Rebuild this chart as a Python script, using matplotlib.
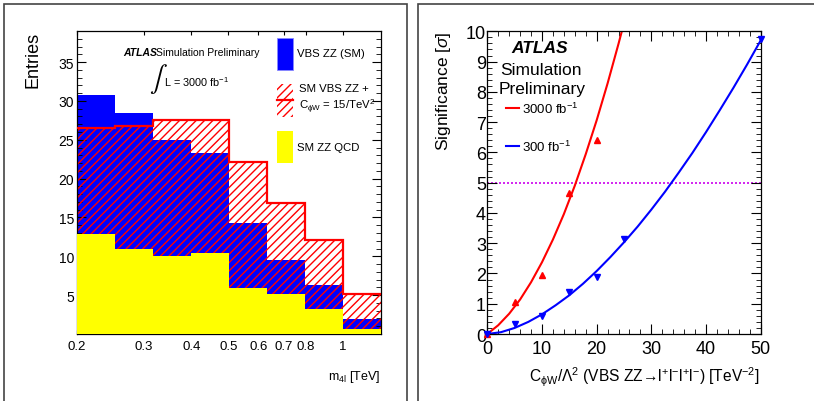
import matplotlib
matplotlib.use('Agg')
import matplotlib.pyplot as plt
from matplotlib.patches import Rectangle
from matplotlib.lines import Line2D
from matplotlib.ticker import MultipleLocator, NullLocator, FixedLocator

# ROOT style helvetica -> Liberation Sans
plt.rcParams['font.family'] = ['Liberation Sans', 'DejaVu Sans']
plt.rcParams['mathtext.fontset'] = 'custom'
plt.rcParams['mathtext.rm'] = 'Liberation Sans'
plt.rcParams['mathtext.it'] = 'Liberation Sans:italic'
plt.rcParams['mathtext.bf'] = 'Liberation Sans:bold'
plt.rcParams['hatch.linewidth'] = 1.0

# ---- left panel data: m4l histograms ----
bin_edges = [0.2, 0.252, 0.317, 0.399, 0.502, 0.632, 0.796, 1.002, 1.262]
qcd = [12.9, 10.9, 10.1, 10.4, 5.95, 5.1, 3.2, 0.7]
sm_total = [30.7, 28.5, 25.0, 23.3, 14.3, 9.5, 6.3, 1.9]        # QCD + VBS ZZ (SM) stacked
cphiw_total = [26.5, 26.8, 27.5, 27.5, 22.2, 16.9, 12.1, 5.2]   # SM VBS ZZ + CphiW = 15
xtick_vals = [0.2, 0.3, 0.4, 0.5, 0.6, 0.7, 0.8, 1.0]
xtick_labels = ['0.2', '0.3', '0.4', '0.5', '0.6', '0.7', '0.8', '1']
ytick_vals = [5, 10, 15, 20, 25, 30, 35]

# ---- right panel data: significance vs CphiW ----
pts_3000_x = [0, 5, 10, 15, 20]
pts_3000_y = [0, 1.05, 1.95, 4.65, 6.4]
pts_300_x = [0, 5, 10, 15, 20, 25, 50]
pts_300_y = [0, 0.32, 0.6, 1.4, 1.87, 3.15, 9.75]
fit_3000_x = [0, 2, 4, 6, 8, 10, 12, 14, 16, 18, 20, 22, 24, 24.6]
fit_3000_y = [0, 0.29, 0.67, 1.14, 1.71, 2.37, 3.12, 3.96, 4.90, 5.94, 7.06, 8.28, 9.59, 10.0]
fit_300_x = [0, 2.5, 5, 7.5, 10, 12.5, 15, 17.5, 20, 22.5, 25, 27.5, 30, 32.5, 35,
             37.5, 40, 42.5, 45, 47.5, 50]
fit_300_y = [0, 0.06, 0.2, 0.4, 0.65, 0.95, 1.28, 1.66, 2.08, 2.54, 3.03, 3.55, 4.11,
             4.70, 5.33, 5.98, 6.67, 7.39, 8.13, 8.90, 9.70]

W, H = 814, 402
fig = plt.figure(figsize=(W / 100, H / 100), dpi=100)


def fx(x):
    return x / W


def fy(y):
    return 1 - y / H


def axes_px(x0, y0, x1, y1):
    return [fx(x0), fy(y1), fx(x1) - fx(x0), fy(y0) - fy(y1)]


# panel frames
fig.add_artist(Rectangle((fx(4), -0.05), fx(407) - fx(4), fy(4.5) + 0.05,
                         fill=False, ec='#444444', lw=1.2, transform=fig.transFigure))
fig.add_artist(Rectangle((fx(418), -0.05), 0.6, fy(4.5) + 0.05,
                         fill=False, ec='#444444', lw=1.2, transform=fig.transFigure))

# ================= left panel =================
ax1 = fig.add_axes(axes_px(77, 32, 381, 335))
ax1.stairs(sm_total, bin_edges, fill=True, color='#0000ff', zorder=1)
ax1.stairs(cphiw_total, bin_edges, fill=True, facecolor='none', edgecolor='#ff0000',
           hatch='////', lw=0, zorder=2)
ax1.stairs(qcd, bin_edges, fill=True, color='#ffff00', zorder=3)
ax1.stairs(cphiw_total, bin_edges, baseline=None, color='#ff0000', lw=1.6, zorder=4)

ax1.set_xscale('log')
ax1.set_xlim(0.2, 1.262)
ax1.set_ylim(0, 39)
ax1.xaxis.set_major_locator(FixedLocator(xtick_vals))
ax1.xaxis.set_minor_locator(NullLocator())
ax1.set_xticklabels(xtick_labels)
ax1.set_yticks(ytick_vals)
ax1.yaxis.set_minor_locator(MultipleLocator(1))
ax1.tick_params(which='both', direction='in', top=True, right=True)
ax1.tick_params(axis='y', which='major', length=6.5, pad=2, labelsize=10)
ax1.tick_params(axis='y', which='minor', length=3.5)
ax1.tick_params(axis='x', which='major', length=3, pad=4, labelsize=9.5)
for s in ax1.spines.values():
    s.set_linewidth(0.9)

fig.text(fx(33), fy(32), 'Entries', rotation=90, ha='center', va='top', fontsize=13)
fig.text(fx(380), fy(377), r'm$_{\mathrm{4l}}$ [TeV]', ha='right', va='center', fontsize=9)

fig.text(fx(123), fy(53), 'ATLAS', fontsize=7.5, weight='bold', style='italic',
         ha='left', va='center')
fig.text(fx(156), fy(53), 'Simulation Preliminary', fontsize=7.5, ha='left', va='center')
fig.text(fx(158), fy(79), r'$\int$', fontsize=19, ha='center', va='center',
         math_fontfamily='stixsans')
fig.text(fx(164), fy(82), r'L = 3000 fb$^{-1}$', fontsize=7.8, ha='left', va='center')

# left legend
fig.add_artist(Rectangle((fx(277), fy(71)), fx(293) - fx(277), fy(39) - fy(71),
                         fc='#0000ff', ec='#8888ff', lw=0.6, transform=fig.transFigure))
fig.add_artist(Rectangle((fx(277), fy(118)), fx(293) - fx(277), fy(85) - fy(118),
                         fc='white', ec='#ff0000', hatch='////', lw=0,
                         transform=fig.transFigure))
fig.add_artist(Line2D([fx(277), fx(293)], [fy(101), fy(101)], color='#ff0000', lw=1.6,
                      transform=fig.transFigure))
fig.add_artist(Rectangle((fx(277), fy(164)), fx(293) - fx(277), fy(132) - fy(164),
                         fc='#ffff00', ec='none', transform=fig.transFigure))
fig.text(fx(297), fy(54), 'VBS ZZ (SM)', fontsize=8.2, va='center')
fig.text(fx(299), fy(89), 'SM VBS ZZ +', fontsize=8.2, va='center')
fig.text(fx(299), fy(107), r'C$_{\mathrm{\phi W}}$ = 15/TeV$^{2}$', fontsize=8.2,
         va='center')
fig.text(fx(297), fy(148), 'SM ZZ QCD', fontsize=8.2, va='center')

# ================= right panel =================
ax2 = fig.add_axes(axes_px(487.3, 32.3, 760.7, 335))
ax2.axhline(5, color='#cc00ee', lw=1.2, ls=(0, (1.2, 1.2)), zorder=1)
ax2.plot(fit_3000_x, fit_3000_y, color='#ff0000', lw=1.5, zorder=2)
ax2.plot(fit_300_x, fit_300_y, color='#0000ff', lw=1.5, zorder=2)
ax2.plot(pts_3000_x, pts_3000_y, ls='none', marker='^', ms=4.5, color='#ff0000',
         clip_on=False, zorder=3)
ax2.plot(pts_300_x, pts_300_y, ls='none', marker='v', ms=4.5, color='#0000ff',
         clip_on=False, zorder=3)
ax2.set_xlim(0, 50)
ax2.set_ylim(0, 10)
ax2.xaxis.set_major_locator(MultipleLocator(10))
ax2.xaxis.set_minor_locator(MultipleLocator(2))
ax2.yaxis.set_major_locator(MultipleLocator(1))
ax2.yaxis.set_minor_locator(MultipleLocator(0.2))
ax2.tick_params(which='both', direction='in', top=True, right=True, labelsize=13)
ax2.tick_params(which='major', length=7)
ax2.tick_params(which='minor', length=3.5)
ax2.tick_params(axis='y', pad=1)
ax2.tick_params(axis='x', pad=4)
for s in ax2.spines.values():
    s.set_linewidth(0.9)

fig.text(fx(444), fy(32), r'Significance [$\sigma$]', rotation=90, ha='center', va='top',
         fontsize=12.5)
xlabel_right = (r'C$_{\mathrm{\phi W}}$/$\Lambda^{2}$ (VBS ZZ' + '\u2192' +
                r'l$^{+}$l$^{-}$l$^{+}$l$^{-}$) [TeV$^{-2}$]')
fig.text(fx(760), fy(377), xlabel_right, ha='right', va='center', fontsize=11.2)

fig.text(fx(540), fy(49), 'ATLAS', fontsize=12.5, weight='bold', style='italic',
         ha='center', va='center')
fig.text(fx(541), fy(70.5), 'Simulation', fontsize=12.5, ha='center', va='center')
fig.text(fx(542), fy(89.5), 'Preliminary', fontsize=12.5, ha='center', va='center')
fig.add_artist(Line2D([fx(506), fx(519)], [fy(109), fy(109)], color='#ff0000', lw=1.5,
                      transform=fig.transFigure))
fig.text(fx(522), fy(109.5), r'3000 fb$^{-1}$', fontsize=9.5, va='center')
fig.add_artist(Line2D([fx(506), fx(519)], [fy(147), fy(147)], color='#0000ff', lw=1.5,
                      transform=fig.transFigure))
fig.text(fx(522), fy(147.5), r'300 fb$^{-1}$', fontsize=9.5, va='center')

fig.savefig('out.png', dpi=100)
